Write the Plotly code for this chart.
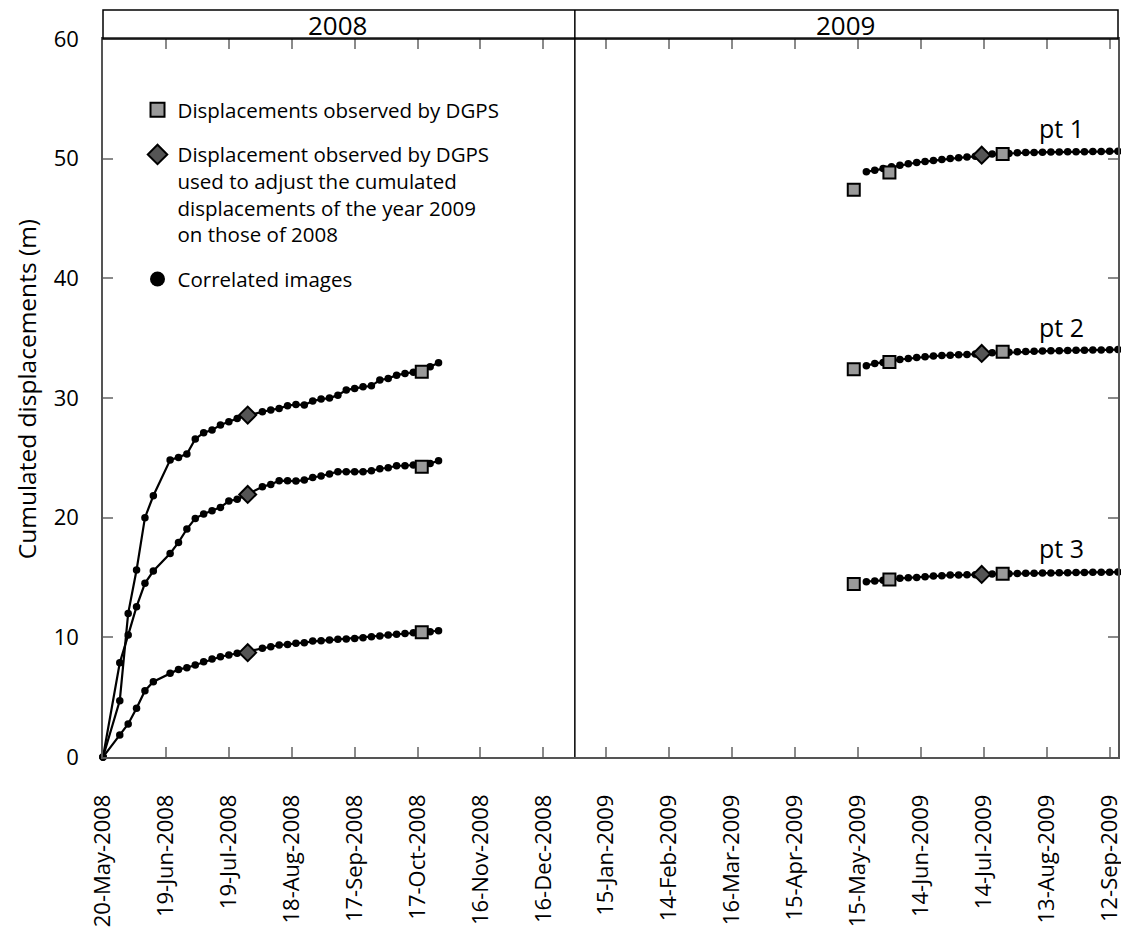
import plotly.graph_objects as go

# correlated images, 2008 campaign (one point every ~4 days)
dates_2008 = [
    "2008-05-20", "2008-05-28", "2008-06-01", "2008-06-05", "2008-06-09", "2008-06-13",
    "2008-06-21", "2008-06-25", "2008-06-29", "2008-07-03", "2008-07-07", "2008-07-11",
    "2008-07-15", "2008-07-19", "2008-07-23", "2008-08-04", "2008-08-08", "2008-08-12",
    "2008-08-16", "2008-08-20", "2008-08-24", "2008-08-28", "2008-09-01", "2008-09-05",
    "2008-09-09", "2008-09-13", "2008-09-17", "2008-09-21", "2008-09-25", "2008-09-29",
    "2008-10-03", "2008-10-07", "2008-10-11", "2008-10-15", "2008-10-19", "2008-10-23",
    "2008-10-27",
]
pt1_2008 = [0, 4.71, 12.0, 15.62, 20.0, 21.83, 24.81, 25.03, 25.31, 26.57, 27.10, 27.32,
            27.74, 28.01, 28.29, 28.85, 28.99, 29.13, 29.35, 29.46, 29.41, 29.74, 29.91, 29.99,
            30.24, 30.66, 30.80, 30.94, 31.02, 31.50, 31.63, 31.91, 32.05, 32.15, 32.30, 32.61,
            32.94]
pt2_2008 = [0, 7.88, 10.19, 12.56, 14.51, 15.54, 17.01, 17.93, 19.05, 19.94, 20.30, 20.58,
            20.86, 21.39, 21.53, 22.58, 22.78, 23.09, 23.09, 23.06, 23.14, 23.36, 23.48, 23.64,
            23.84, 23.84, 23.84, 23.84, 23.92, 24.09, 24.17, 24.34, 24.34, 24.40, 24.45, 24.53,
            24.76]
pt3_2008 = [0, 1.84, 2.76, 4.07, 5.54, 6.29, 6.99, 7.32, 7.46, 7.69, 7.96, 8.19,
            8.38, 8.52, 8.66, 9.08, 9.22, 9.36, 9.41, 9.50, 9.55, 9.69, 9.72, 9.77,
            9.83, 9.86, 9.91, 9.97, 10.05, 10.11, 10.19, 10.25, 10.33, 10.38, 10.42, 10.47,
            10.55]

# correlated images, 2009 campaign
dates_2009 = [
    "2009-05-19", "2009-05-23", "2009-05-27", "2009-05-31", "2009-06-04", "2009-06-08",
    "2009-06-12", "2009-06-16", "2009-06-20", "2009-06-24", "2009-06-28", "2009-07-02",
    "2009-07-06", "2009-07-10", "2009-07-14", "2009-07-18", "2009-07-22", "2009-07-26",
    "2009-07-30", "2009-08-03", "2009-08-07", "2009-08-11", "2009-08-15", "2009-08-19",
    "2009-08-23", "2009-08-27", "2009-08-31", "2009-09-04", "2009-09-08", "2009-09-12",
    "2009-09-16",
]
pt1_2009 = [48.90, 49.04, 49.18, 49.32, 49.46, 49.57, 49.68, 49.76, 49.85, 49.93, 50.01,
            50.07, 50.13, 50.21, 50.29, 50.38, 50.40, 50.43, 50.49, 50.51, 50.52, 50.53,
            50.55, 50.56, 50.57, 50.58, 50.58, 50.59, 50.60, 50.61, 50.61]
pt2_2009 = [32.69, 32.89, 32.97, 33.06, 33.22, 33.30, 33.39, 33.44, 33.50, 33.55, 33.58,
            33.61, 33.64, 33.67, 33.72, 33.78, 33.80, 33.83, 33.86, 33.88, 33.90, 33.92,
            33.94, 33.95, 33.97, 33.98, 34.00, 34.01, 34.02, 34.04, 34.05]
pt3_2009 = [14.65, 14.70, 14.76, 14.81, 14.93, 14.98, 15.01, 15.07, 15.12, 15.15, 15.20,
            15.20, 15.23, 15.24, 15.26, 15.29, 15.30, 15.32, 15.33, 15.35, 15.36, 15.37,
            15.38, 15.39, 15.40, 15.41, 15.42, 15.43, 15.44, 15.44, 15.45]

# DGPS observations
dgps_dates = ["2008-10-19", "2009-05-13", "2009-05-30", "2009-07-23"]
dgps_pt1 = [32.20, 47.40, 48.85, 50.40]
dgps_pt2 = [24.25, 32.40, 33.00, 33.86]
dgps_pt3 = [10.42, 14.45, 14.84, 15.32]

# DGPS observations used to tie 2009 onto 2008
adjust_dates = ["2008-07-28", "2009-07-13"]
adjust_pt1 = [28.57, 50.29]
adjust_pt2 = [21.94, 33.72]
adjust_pt3 = [8.72, 15.26]

point_labels = ["pt 1", "pt 2", "pt 3"]
label_y = [52.6, 35.9, 17.5]

tick_dates = [
    "2008-05-20", "2008-06-19", "2008-07-19", "2008-08-18", "2008-09-17", "2008-10-17",
    "2008-11-16", "2008-12-16", "2009-01-15", "2009-02-14", "2009-03-16", "2009-04-15",
    "2009-05-15", "2009-06-14", "2009-07-14", "2009-08-13", "2009-09-12",
]

FONT = "Open Sans"
dot_style = dict(color="black", size=7.5)
square_style = dict(symbol="square", size=12, color="#9a9a9a", line=dict(color="black", width=2))
diamond_style = dict(symbol="diamond", size=13, color="#555555", line=dict(color="black", width=2))

fig = go.Figure()

for dates, series in [
    (dates_2008, pt1_2008), (dates_2008, pt2_2008), (dates_2008, pt3_2008),
    (dates_2009, pt1_2009), (dates_2009, pt2_2009), (dates_2009, pt3_2009),
]:
    fig.add_trace(go.Scatter(
        x=dates, y=series, mode="lines+markers",
        line=dict(color="black", width=2.2), marker=dot_style,
        showlegend=False, cliponaxis=False,
    ))

for values in [dgps_pt1, dgps_pt2, dgps_pt3]:
    fig.add_trace(go.Scatter(x=dgps_dates, y=values, mode="markers", marker=square_style,
                             showlegend=False, cliponaxis=False))
for values in [adjust_pt1, adjust_pt2, adjust_pt3]:
    fig.add_trace(go.Scatter(x=adjust_dates, y=values, mode="markers", marker=diamond_style,
                             showlegend=False, cliponaxis=False))

# legend-only entries
legend_entries = [
    ("Displacements observed by DGPS", dict(square_style, size=14)),
    ("Displacement observed by DGPS<br>used to adjust the cumulated<br>"
     "displacements of the year 2009<br>on those of 2008", dict(diamond_style, size=15)),
    ("Correlated images", dict(color="black", size=15)),
]
for i, (name, style) in enumerate(legend_entries):
    fig.add_trace(go.Scatter(x=[None], y=[None], mode="markers", marker=style,
                             name=name, legendgroup=str(i)))

for text, y in zip(point_labels, label_y):
    fig.add_annotation(x="2009-08-20", y=y, text=text, showarrow=False,
                       font=dict(size=25, color="black", family=FONT))

# y title placed by hand (plotly keeps it too far from the tick labels)
fig.add_annotation(xref="paper", yref="paper", x=-0.075, y=0.512,
                   xanchor="center", yanchor="middle", textangle=-90,
                   text="Cumulated displacements (m)", showarrow=False,
                   font=dict(size=24.5, color="black", family=FONT))

# year header band
band_top = 1 + 29 / 718
band_mid = (1 + band_top) / 2
fig.add_shape(type="rect", xref="paper", yref="paper", x0=0, x1=1, y0=1, y1=band_top,
              line=dict(color="black", width=1.5))
fig.add_shape(type="line", xref="x", yref="paper", x0="2008-12-31", x1="2008-12-31",
              y0=0, y1=band_top, line=dict(color="black", width=1.5))
for text, xpos in [("2008", 0.2315), ("2009", 0.732)]:
    fig.add_annotation(xref="paper", yref="paper", x=xpos, y=band_mid,
                       xanchor="center", yanchor="middle",
                       text=text, showarrow=False,
                       font=dict(size=26, color="black", family=FONT))

axis_common = dict(
    showline=True, linecolor="#555555", linewidth=1.5, mirror="ticks",
    ticks="inside", ticklen=10, tickcolor="#8a8a8a", tickwidth=1.5,
    showgrid=False, zeroline=False, automargin=False,
    tickfont=dict(size=22, color="black", family=FONT),
)

fig.update_xaxes(
    type="date", range=["2008-05-20", "2009-09-16"],
    tickvals=tick_dates, tickformat="%d-%b-%Y", tickangle=-90,
    ticklabelstandoff=27, **axis_common,
)
fig.update_yaxes(range=[0, 60], dtick=10, ticklabelstandoff=18, **axis_common)

# the page body adds ~8px around the plot div, so the figure is 8px smaller
fig.update_layout(
    width=1121, height=925,
    margin=dict(l=95, r=11, t=31, b=176),
    paper_bgcolor="white", plot_bgcolor="white",
    font=dict(family=FONT, color="black"),
    legend=dict(
        x=0.034, y=0.929, xanchor="left", yanchor="top",
        bgcolor="rgba(0,0,0,0)", borderwidth=0,
        font=dict(size=20.5, color="black", family=FONT),
        valign="top", traceorder="grouped", tracegroupgap=15,
        itemsizing="trace",
    ),
)

fig.write_html("out.html")
